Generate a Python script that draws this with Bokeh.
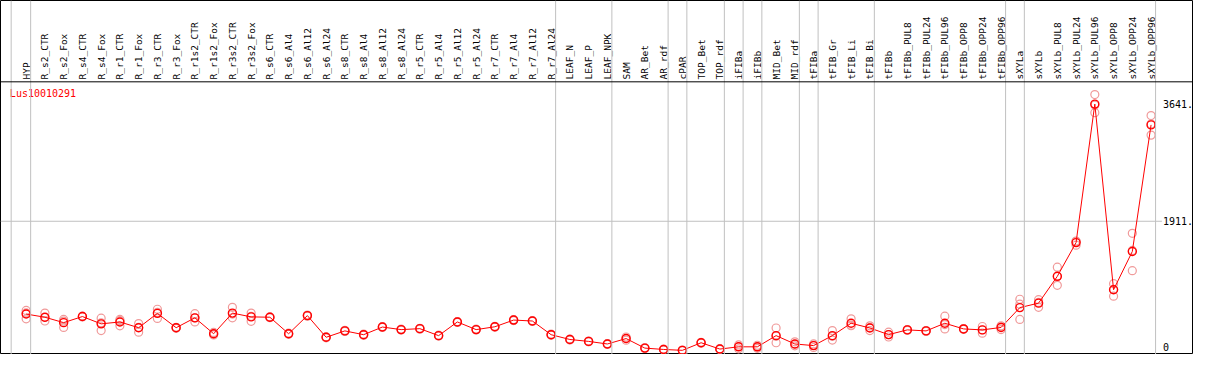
import math
from bokeh.plotting import figure
from bokeh.models import Range1d, Span, ColumnDataSource
from bokeh.core.properties import value
from bokeh.embed import file_html
from bokeh.resources import INLINE

gene = "Lus10010291"

categories = ["HYP", "R_s2_CTR", "R_s2_Fox", "R_s4_CTR", "R_s4_Fox", "R_r1_CTR", "R_r1_Fox",
              "R_r3_CTR", "R_r3_Fox", "R_r1s2_CTR", "R_r1s2_Fox", "R_r3s2_CTR", "R_r3s2_Fox",
              "R_s6_CTR", "R_s6_Al4", "R_s6_Al12", "R_s6_Al24", "R_s8_CTR", "R_s8_Al4",
              "R_s8_Al12", "R_s8_Al24", "R_r5_CTR", "R_r5_Al4", "R_r5_Al12", "R_r5_Al24",
              "R_r7_CTR", "R_r7_Al4", "R_r7_Al12", "R_r7_Al24", "LEAF_N", "LEAF_P", "LEAF_NPK",
              "SAM", "AR_Bet", "AR_rdf", "cPAR", "TOP_Bet", "TOP_rdf", "iFIBa", "iFIBb",
              "MID_Bet", "MID_rdf", "tFIBa", "tFIB_Gr", "tFIB_Li", "tFIB_Bi", "tFIBb",
              "tFIBb_PUL8", "tFIBb_PUL24", "tFIBb_PUL96", "tFIBb_OPP8", "tFIBb_OPP24",
              "tFIBb_OPP96", "sXYLa", "sXYLb", "sXYLb_PUL8", "sXYLb_PUL24", "sXYLb_PUL96",
              "sXYLb_OPP8", "sXYLb_OPP24", "sXYLb_OPP96"]

means = [541, 494, 414, 504, 396, 424, 339, 551, 339, 485, 250, 555, 499, 494, 250, 518,
         198, 292, 236, 349, 311, 325, 222, 424, 311, 353, 452, 438, 236, 165, 137, 99,
         179, 38, 18, 5, 117, 24, 57, 57, 222, 99, 75, 222, 405, 335, 237, 307, 292, 405,
         321, 307, 343, 636, 702, 1098, 1596, 3641, 900, 1465, 3334]

rep_a = [595, 555, 462, 510, 480, 462, 400, 612, 345, 546, 270, 640, 555, 500, 258, 525,
         205, 300, 243, 356, 318, 331, 229, 431, 317, 360, 459, 445, 243, 171, 143, 105,
         202, 44, 25, 10, 124, 30, 85, 80, 335, 131, 99, 297, 470, 367, 273, 300, 285, 509,
         315, 357, 367, 759, 753, 1233, 1611, 3782, 989, 1733, 3471]

rep_b = [470, 438, 343, 497, 297, 367, 273, 476, 330, 424, 232, 485, 434, 488, 243, 510,
         190, 285, 229, 342, 304, 318, 215, 417, 305, 346, 445, 431, 229, 158, 131, 93,
         155, 32, 12, 1, 110, 18, 28, 35, 117, 71, 47, 212, 377, 297, 202, 312, 298, 321,
         327, 259, 311, 462, 640, 965, 1558, 3514, 805, 1182, 3183]

rep_c = [558, 490, 437, 505, 411, 443, 344, 565, 342, 485, 248, 540, 508, 494, 249, 519,
         199, 291, 236, 349, 311, 326, 222, 424, 311, 353, 452, 438, 236, 166, 137, 99,
         180, 38, 17, 4, 117, 24, 58, 56, 214, 95, 79, 157, 368, 341, 236, 309, 293, 385,
         321, 305, 351, 687, 713, 1096, 1619, 3627, 906, 1480, 3348]

# indices of the last category of each group (a grey separator follows it)
group_ends = [0, 28, 31, 34, 35, 37, 38, 39, 41, 42, 45, 52, 53, 60]

y_ticks = [0, 1911, 3641]
y_tick_labels = ["0", "1911.", "3641."]

# ---- geometry (reference pixel layout -> data units) ----
W, H = 1193, 354
REF_W, REF_H = 1209, 370
STEP = 19.0
X0 = 26.0
PX_PER_UNIT = 0.07078
Y_ZERO = 366.0

def xd(px):
    return (px - X0) / STEP

def yd(py):
    return (Y_ZERO - py) / PX_PER_UNIT

xs = list(range(len(categories)))

p = figure(width=W, height=H, output_backend="svg", toolbar_location=None,
           x_range=Range1d(xd(0), xd(REF_W)), y_range=Range1d(yd(REF_H), yd(0)),
           x_axis_location=None, y_axis_location=None, min_border=0,
           outline_line_color="black", outline_line_width=1,
           background_fill_color="white", border_fill_color="white")
p.grid.visible = False

# grey group separators
p.add_layout(Span(location=-0.8, dimension="height", line_color="#c0c0c0", line_width=1))
for k in group_ends:
    p.add_layout(Span(location=k + 0.24, dimension="height", line_color="#c0c0c0", line_width=1))

# separator between label band and plot
p.add_layout(Span(location=yd(85), dimension="width", line_color="black", line_width=1))

# horizontal grid line at mid tick
p.segment(x0=[xd(0)], y0=[y_ticks[1]], x1=[xd(1177)], y1=[y_ticks[1]],
          line_color="#c0c0c0", line_width=1)

src = ColumnDataSource(dict(x=xs, m=means, a=rep_a, b=rep_b, c=rep_c, cat=categories))

rep_col = "#f09a9a"
for col in ["a", "b", "c"]:
    p.scatter(x="x", y=col, source=src, marker="circle", size=8,
              fill_color=None, line_color=rep_col, line_width=1.2)

p.line(x="x", y="m", source=src, line_color="red", line_width=1)
p.scatter(x="x", y="m", source=src, marker="circle", size=8,
          fill_color=None, line_color="red", line_width=1.4)

# rotated category labels
p.text(x="x", y=yd(82.5), text="cat", source=src, angle=math.pi / 2,
       text_align="left", text_baseline="middle",
       text_font=value("DejaVu Sans Mono"), text_font_size="9.5px", text_color="black")

# gene label
p.text(x=[xd(9.5)], y=[yd(97)], text=[gene], text_align="left", text_baseline="middle",
       text_font=value("DejaVu Sans Mono"), text_font_size="10px", text_color="red")

# value labels on the right
for t, lab in zip(y_ticks, y_tick_labels):
    p.text(x=[xd(1178)], y=[t], text=[lab], text_align="left",
           text_baseline="bottom" if t == 0 else "middle",
           text_font=value("DejaVu Sans Mono"), text_font_size="10px", text_color="black")

open("out.html", "w").write(file_html(p, INLINE))
